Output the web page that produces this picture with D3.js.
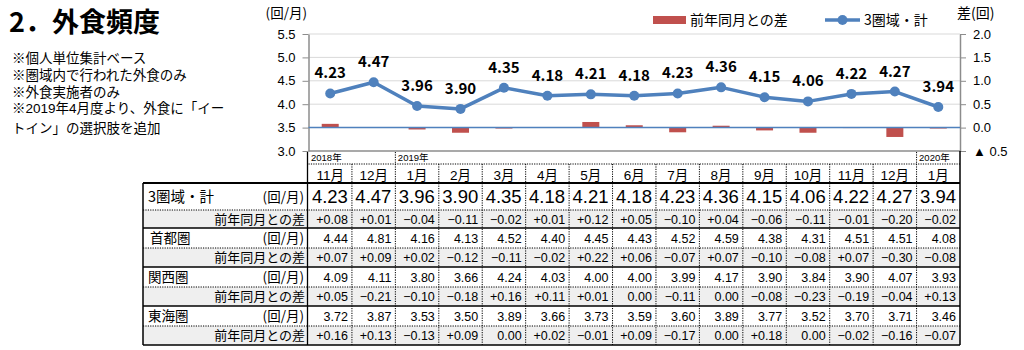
<!DOCTYPE html>
<html><head><meta charset="utf-8">
<script src="https://cdn.jsdelivr.net/npm/d3@7"></script>
<style>
html,body{margin:0;padding:0;background:#fff;}
svg{display:block;}
text{font-family:"Liberation Sans","Noto Sans CJK JP",sans-serif;fill:#000;}
.jp{font-family:"Noto Sans CJK JP",sans-serif;}
</style></head>
<body>
<svg id="c" width="1024" height="350"></svg>
<script>
const months = ["11月","12月","1月","2月","3月","4月","5月","6月","7月","8月","9月","10月","11月","12月","1月"];
const years = [{label:"2018年", start:0},{label:"2019年", start:2},{label:"2020年", start:14}];
const total = [4.23,4.47,3.96,3.90,4.35,4.18,4.21,4.18,4.23,4.36,4.15,4.06,4.22,4.27,3.94];
const totalDiff = [0.08,0.01,-0.04,-0.11,-0.02,0.01,0.12,0.05,-0.10,0.04,-0.06,-0.11,-0.01,-0.20,-0.02];
const shutoken = [4.44,4.81,4.16,4.13,4.52,4.40,4.45,4.43,4.52,4.59,4.38,4.31,4.51,4.51,4.08];
const shutokenDiff = [0.07,0.09,0.02,-0.12,-0.11,-0.02,0.22,0.06,-0.07,0.07,-0.10,-0.08,0.07,-0.30,-0.08];
const kansai = [4.09,4.11,3.80,3.66,4.24,4.03,4.00,4.00,3.99,4.17,3.90,3.84,3.90,4.07,3.93];
const kansaiDiff = [0.05,-0.21,-0.10,-0.18,0.16,0.11,0.01,0.00,-0.11,0.00,-0.08,-0.23,-0.19,-0.04,0.13];
const tokai = [3.72,3.87,3.53,3.50,3.89,3.66,3.73,3.59,3.60,3.89,3.77,3.52,3.70,3.71,3.46];
const tokaiDiff = [0.16,0.13,-0.13,0.09,0.00,0.02,-0.01,0.09,-0.17,0.00,0.18,0.00,-0.02,-0.16,-0.07];
const leftTicks = [3.0,3.5,4.0,4.5,5.0,5.5];
const rightTicks = [-0.5,0,0.5,1.0,1.5,2.0];
const notes = ["※個人単位集計ベース","※圏域内で行われた外食のみ","※外食実施者のみ","※2019年4月度より、外食に「イー","トイン」の選択肢を追加"];
const seriesName = "3圏域・計";
const diffName = "前年同月との差";
const tableRows = [
  {label:"3圏域・計", unit:"(回/月)", values: total, diff:false, main:true},
  {label:diffName, values: totalDiff, diff:true},
  {label:"首都圏", unit:"(回/月)", values: shutoken, diff:false},
  {label:diffName, values: shutokenDiff, diff:true},
  {label:"関西圏", unit:"(回/月)", values: kansai, diff:false},
  {label:diffName, values: kansaiDiff, diff:true},
  {label:"東海圏", unit:"(回/月)", values: tokai, diff:false},
  {label:diffName, values: tokaiDiff, diff:true}
];

const svg = d3.select("#c");
const L = 308.5, R = 960, T = 34, B = 151;
const blue = "#4F81BD", red = "#C0504D";

const x = d3.scaleBand().domain(d3.range(months.length)).range([L, R]).paddingInner(0).paddingOuter(0);
const yL = d3.scaleLinear().domain([3.0, 5.5]).range([B, T]);
const yR = d3.scaleLinear().domain([-0.5, 2.0]).range([B, T]);
const cx = i => x(i) + x.bandwidth()/2;

// Title & notes
svg.append("text").attr("class","jp").attr("x",9).attr("y",32)
  .style("font-size","27px").style("font-weight","700").text("2．外食頻度");
const noteY = [63, 80, 97, 113, 133];
notes.forEach((n,i)=>{
  svg.append("text").attr("x",12).attr("y",noteY[i])
    .style("font-family",'"Liberation Sans","Noto Sans CJK JP",sans-serif')
    .style("font-size","13.5px").text(n);
});

// gridlines
svg.append("g").selectAll("line").data(leftTicks.filter(v=>v>3.0)).join("line")
  .attr("x1",L).attr("x2",R).attr("y1",d=>yL(d)).attr("y2",d=>yL(d))
  .attr("stroke","#d9d9d9").attr("stroke-width",1);

// axes
const axL = svg.append("g").attr("transform",`translate(${L},0)`)
  .call(d3.axisLeft(yL).tickValues(leftTicks).tickFormat(d3.format(".1f")).tickSize(6).tickSizeOuter(0));
axL.select(".domain").attr("stroke","#8c8c8c").attr("stroke-width",1.5);
axL.selectAll(".tick line").attr("stroke","#8c8c8c");
axL.selectAll(".tick text").attr("x",-13).style("font-size","13px").style("font-family","Liberation Sans");

const axR = svg.append("g").attr("transform",`translate(${R},0)`)
  .call(d3.axisRight(yR).tickValues(rightTicks)
    .tickFormat(v => v < 0 ? "▲ " + Math.abs(v).toFixed(1) : v.toFixed(1)).tickSize(6).tickSizeOuter(0));
axR.select(".domain").attr("stroke","#8c8c8c").attr("stroke-width",1.5);
axR.selectAll(".tick line").attr("stroke","#8c8c8c");
axR.selectAll(".tick text").attr("x",13).style("font-size","13px").style("font-family","Liberation Sans");

// bottom line of plot
svg.append("line").attr("x1",L).attr("x2",R).attr("y1",B).attr("y2",B).attr("stroke","#8c8c8c").attr("stroke-width",1.5);

// axis titles
svg.append("text").attr("class","jp").attr("x",307).attr("y",18).attr("text-anchor","end").style("font-size","13.5px").text("(回/月)");
svg.append("text").attr("class","jp").attr("x",957).attr("y",18).style("font-size","14px").text("差(回)");

// bars
const bw = 17;
svg.append("g").selectAll("rect").data(totalDiff).join("rect")
  .attr("x",(d,i)=>cx(i)-bw/2).attr("width",bw)
  .attr("y",d=>Math.min(yR(d),yR(0))).attr("height",d=>Math.abs(yR(d)-yR(0)))
  .attr("fill",red);

// zero line
svg.append("line").attr("x1",L).attr("x2",R).attr("y1",yR(0)).attr("y2",yR(0)).attr("stroke",blue).attr("stroke-width",1.5);

// line series
svg.append("path").datum(total)
  .attr("d", d3.line().x((d,i)=>cx(i)).y(d=>yL(d)))
  .attr("fill","none").attr("stroke",blue).attr("stroke-width",3.5).attr("stroke-linejoin","round");
svg.append("g").selectAll("circle").data(total).join("circle")
  .attr("cx",(d,i)=>cx(i)).attr("cy",d=>yL(d)).attr("r",5).attr("fill",blue);
svg.append("g").selectAll("text").data(total).join("text")
  .attr("class","jp")
  .attr("x",(d,i)=>cx(i)).attr("y",d=>yL(d)-15).attr("text-anchor","middle")
  .style("font-size","15px").style("font-weight","700").text(d=>d.toFixed(2));

// legend
svg.append("rect").attr("x",653).attr("y",16).attr("width",33).attr("height",8).attr("fill",red);
svg.append("text").attr("class","jp").attr("x",690).attr("y",25).style("font-size","14px").text(diffName);
svg.append("line").attr("x1",825).attr("x2",860).attr("y1",20).attr("y2",20).attr("stroke",blue).attr("stroke-width",3.5);
svg.append("circle").attr("cx",842.5).attr("cy",20).attr("r",5).attr("fill",blue);
svg.append("text").attr("class","jp").attr("x",864).attr("y",25).style("font-size","14px").text(seriesName);

// ---- table ----
const TL = 143, yearTop = 152, yearBot = 164, monthBot = 183;
const rowTops = [183, 210, 228, 248, 267, 287, 306, 326, 345];
const tg = svg.append("g");
const dotted = "1.2,1.2";

// row backgrounds
tableRows.forEach((r,i)=>{
  if (r.diff) tg.append("rect").attr("x",TL).attr("y",rowTops[i]).attr("width",R-TL).attr("height",rowTops[i+1]-rowTops[i]).attr("fill","#efefef");
});

// year row
tg.append("line").attr("x1",L).attr("x2",R).attr("y1",yearBot).attr("y2",yearBot).attr("stroke","#000").attr("stroke-width",1).attr("stroke-dasharray",dotted);
years.forEach(yv=>{
  if (yv.start>0) tg.append("line").attr("x1",x(yv.start)).attr("x2",x(yv.start)).attr("y1",yearTop).attr("y2",yearBot).attr("stroke","#000").attr("stroke-dasharray",dotted);
  tg.append("text").attr("x",x(yv.start)+2.5).attr("y",yearBot-3).style("font-size","9.5px").text(yv.label);
});
// month labels
tg.append("g").selectAll("text").data(months).join("text")
  .attr("x",(d,i)=>cx(i)).attr("y",180).attr("text-anchor","middle").style("font-size","13.5px").text(d=>d);

// vertical dividers
d3.range(1, months.length).forEach(i=>{
  tg.append("line").attr("x1",x(i)).attr("x2",x(i)).attr("y1",yearBot).attr("y2",rowTops[8]).attr("stroke","#000").attr("stroke-width",1).attr("stroke-dasharray",dotted);
});

// horizontal lines
for (let i=1;i<8;i++){
  const isDotted = tableRows[i].diff;
  tg.append("line").attr("x1",TL).attr("x2",R).attr("y1",rowTops[i]).attr("y2",rowTops[i])
    .attr("stroke","#000").attr("stroke-width", isDotted?1:1.3).attr("stroke-dasharray", isDotted?dotted:null);
}
// outer borders
tg.append("line").attr("x1",TL).attr("x2",R).attr("y1",rowTops[0]).attr("y2",rowTops[0]).attr("stroke","#000").attr("stroke-width",2);
tg.append("line").attr("x1",TL).attr("x2",R).attr("y1",rowTops[8]).attr("y2",rowTops[8]).attr("stroke","#000").attr("stroke-width",1.5);
tg.append("line").attr("x1",TL).attr("x2",TL).attr("y1",rowTops[0]).attr("y2",rowTops[8]).attr("stroke","#000").attr("stroke-width",1.5);
tg.append("line").attr("x1",L-1).attr("x2",L-1).attr("y1",yearTop).attr("y2",rowTops[8]).attr("stroke","#000").attr("stroke-width",1.3);
tg.append("line").attr("x1",R).attr("x2",R).attr("y1",B).attr("y2",rowTops[8]).attr("stroke","#000").attr("stroke-width",1.5);

// row text
const fmtDiff = v => v === 0 ? "0.00" : (v > 0 ? "+" : "\u2212") + Math.abs(v).toFixed(2);
tableRows.forEach((r,i)=>{
  const mid = (rowTops[i]+rowTops[i+1])/2;
  if (r.diff) {
    tg.append("text").attr("class","jp").attr("x",305).attr("y",mid+4.5).attr("text-anchor","end").style("font-size","13px").text(r.label);
  } else {
    tg.append("text").attr("class","jp").attr("x", i===2?150:148).attr("y",mid+5).style("font-size", r.main?"14.5px":"13.5px").text(r.label);
    tg.append("text").attr("class","jp").attr("x",304).attr("y",mid+5).attr("text-anchor","end").style("font-size","13.5px").text(r.unit);
  }
  tg.append("g").selectAll("text").data(r.values).join("text")
    .attr("x",(d,j)=>x(j)+x.bandwidth()-4).attr("y", mid + (r.main?6.5:4.5)).attr("text-anchor","end")
    .style("font-size", r.main?"18.5px":"12.5px")
    .text(d => r.diff ? fmtDiff(d) : d.toFixed(2));
});
</script>
</body></html>
